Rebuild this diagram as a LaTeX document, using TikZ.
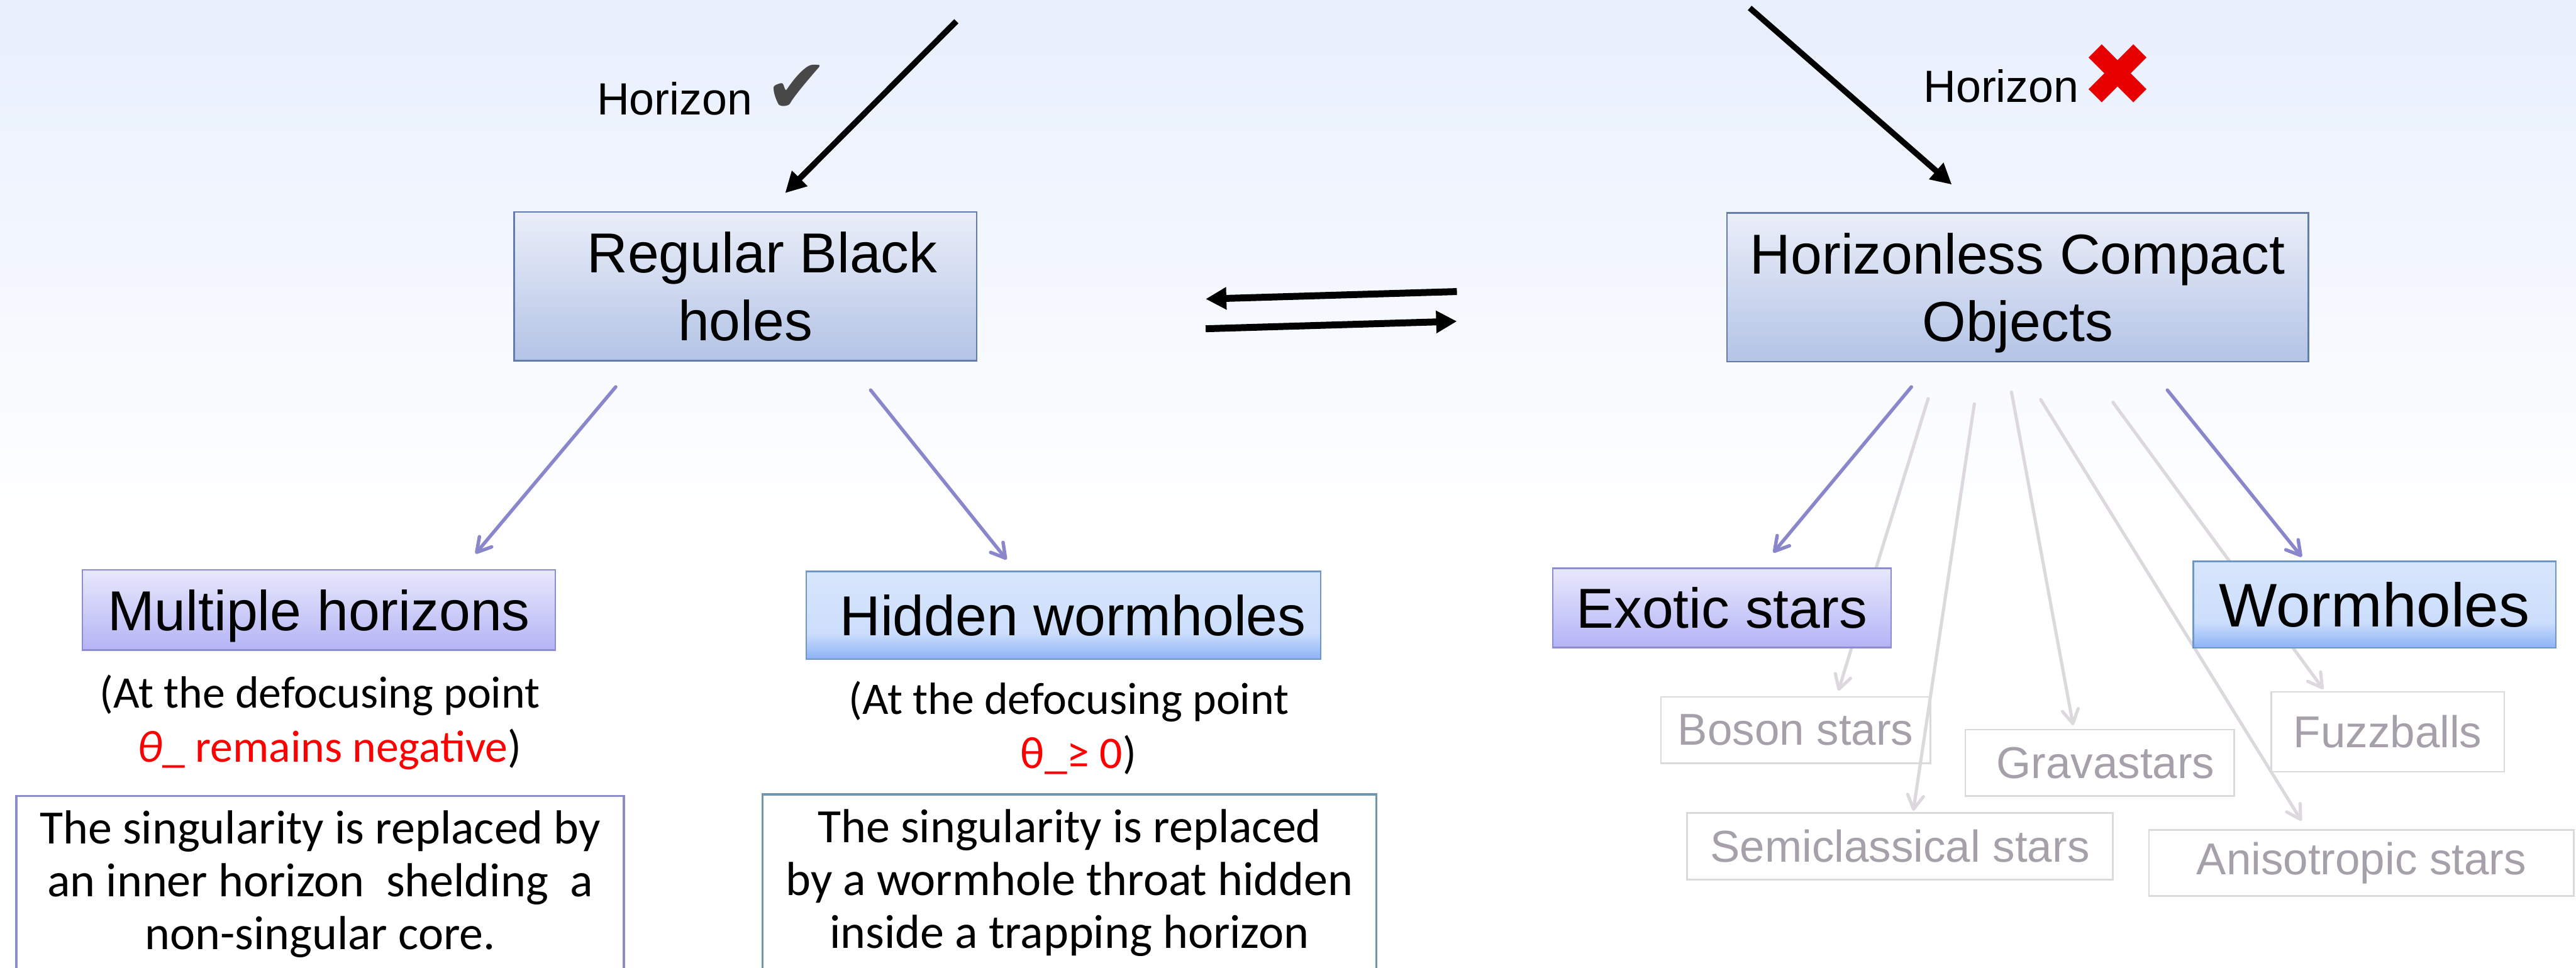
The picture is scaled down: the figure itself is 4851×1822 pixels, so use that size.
\documentclass[tikz,border=0pt]{standalone}
\usepackage{fontspec}
\setmainfont{Liberation Sans}
\newfontfamily\calibfont{Carlito}
\newfontfamily\symfont{DejaVu Sans}
\usetikzlibrary{arrows.meta,calc}

\definecolor{bgtop}{RGB}{232,239,253}
\definecolor{rbhtop}{RGB}{234,238,248}
\definecolor{rbhbot}{RGB}{180,196,230}
\definecolor{rbhline}{RGB}{100,124,172}
\definecolor{lavtop}{RGB}{232,232,252}
\definecolor{lavbot}{RGB}{180,180,246}
\definecolor{lavline}{RGB}{140,140,210}
\definecolor{blutop}{RGB}{216,230,252}
\definecolor{blumid}{RGB}{204,222,252}
\definecolor{blubot}{RGB}{140,178,246}
\definecolor{bluline}{RGB}{110,150,200}
\definecolor{linkpurple}{RGB}{138,134,204}
\definecolor{linkgray}{RGB}{220,216,222}
\definecolor{faintgray}{RGB}{166,160,170}
\definecolor{faintline}{RGB}{218,218,218}
\definecolor{checkgray}{RGB}{72,72,72}
\definecolor{crossred}{RGB}{230,0,0}
\definecolor{tbonel}{RGB}{140,140,204}
\definecolor{tbtwol}{RGB}{108,150,178}

\pgfdeclareverticalshading{pageshade}{100bp}{color(0bp)=(white); color(47.5bp)=(white); color(75bp)=(bgtop); color(100bp)=(bgtop)}
\pgfdeclareverticalshading{blueshade}{100bp}{color(0bp)=(blubot); color(25bp)=(blubot); color(40bp)=(blumid); color(75bp)=(blutop); color(100bp)=(blutop)}

\tikzset{
  bigfont/.style={font=\fontsize{10.6}{12.7}\selectfont},
  catbox/.style={draw=rbhline, line width=0.3pt, top color=rbhtop, bottom color=rbhbot,
    align=center, inner sep=0pt, text depth=0pt, bigfont},
  lavbox/.style={draw=lavline, line width=0.3pt, top color=lavtop, bottom color=lavbot,
    align=center, inner sep=0pt, text depth=0pt, bigfont},
  bluebox/.style={draw=bluline, line width=0.3pt, shading=blueshade,
    align=center, inner sep=0pt, text depth=0pt, bigfont},
  faintbox/.style={draw=faintline, line width=0.3pt, fill=white, text=faintgray,
    inner sep=0pt, font=\fontsize{8.4}{10}\selectfont},
  notebox/.style={line width=0.4pt, fill=white, align=center, inner sep=0pt, anchor=north west,
    font=\calibfont\fontsize{9}{9.95}\selectfont},
  parnote/.style={align=center, inner sep=0pt, font=\calibfont\fontsize{8.5}{10.2}\selectfont},
  horlabel/.style={anchor=base west, inner sep=0pt, font=\fontsize{8.5}{10}\selectfont},
  darrow/.style={line width=1.1pt, -{Triangle[length=3.9pt,width=3.9pt]}},
  harrow/.style={line width=1.3pt, -{Triangle[length=3.9pt,width=4pt]}},
  parrow/.style={draw=linkpurple, line width=0.65pt, line cap=round,
    -{Straight Barb[length=2.6pt,width=3pt,round]}},
  garrow/.style={draw=linkgray, line width=0.6pt, line cap=round,
    -{Straight Barb[length=2.6pt,width=3pt,round]}},
}

\begin{document}
\begin{tikzpicture}[x=0.1pt,y=-0.1pt]
\useasboundingbox (0,0) rectangle (4851,1822);
\shade[shading=pageshade] (0,0) rectangle (4851,1822);

% top-level categories
\node[catbox, minimum width=87.1pt, minimum height=28pt] (rbh) at (1403.5,539)
  {\hspace*{6.4pt}Regular Black\\holes};
\node[catbox, minimum width=109.5pt, minimum height=28pt] (hco) at (3799.5,541)
  {Horizonless Compact\\Objects};

% incoming arrows with horizon labels
\coordinate (srcA) at (1801,40);
\coordinate (srcB) at (3295,15);
\draw[darrow] (srcA) -- ($(rbh.north)+(75,-34)$);
\draw[darrow] (srcB) -- ($(hco.north)+(-124,-52)$);
\node[horlabel] (hyes) at (1122,216)
  {Horizon {\symfont\fontsize{14.3}{14}\selectfont\color{checkgray}\raisebox{0.4pt}{✔}}};
\node[horlabel] (hno) at (3620,192)
  {Horizon\hspace{-1.9pt} {\symfont\fontsize{16.4}{16}\selectfont\color{crossred}\raisebox{-0.6pt}{✖}}};

% two-way link between the categories
\draw[harrow] ($(hco.west)+(-507,8)$) -- ($(rbh.east)+(430,24)$);
\draw[harrow] ($(rbh.east)+(430,80)$) -- ($(hco.west)+(-507,64)$);

% faint sub-examples of horizonless objects
\node[faintbox, minimum width=50.7pt, minimum height=12.5pt] (boson) at (3381.5,1374.5) {Boson stars};
\node[faintbox, minimum width=50.6pt, minimum height=12.5pt] (grava) at (3954,1436.5) {\hspace*{2.2pt}Gravastars};
\node[faintbox, minimum width=43.9pt, minimum height=15pt] (fuzz) at (4496.5,1378) {Fuzzballs};
\node[faintbox, minimum width=80.2pt, minimum height=12.5pt] (semi) at (3578,1593.5) {Semiclassical stars};
\node[faintbox, minimum width=80pt, minimum height=12.4pt] (aniso) at (4447,1625) {Anisotropic stars};

\draw[garrow] ($(hco.south)+(-168.5,68)$) -- ($(boson.north)+(80.5,-10)$);
\draw[garrow] ($(hco.south)+(-81.5,78)$) -- ($(semi.north)+(25,-3)$);
\draw[garrow] ($(hco.south)+(-11.5,56)$) -- ($(grava.north)+(-50,-7)$);
\draw[garrow] ($(hco.south)+(43.5,70)$) -- ($(aniso.north)+(-113,-16)$);
\draw[garrow] ($(hco.south)+(179.5,75)$) -- ($(fuzz.north)+(-121.5,-4)$);

% second-level categories
\node[lavbox, minimum width=89.1pt, minimum height=15.1pt] (mh) at (600.5,1148.5) {Multiple horizons};
\node[bluebox, minimum width=96.9pt, minimum height=16.5pt] (hw) at (2002.5,1158.5) {\hspace*{3.6pt}Hidden wormholes};
\node[lavbox, minimum width=63.7pt, minimum height=14.9pt] (ex) at (3242.5,1144.5) {Exotic stars};
\node[bluebox, minimum width=68.3pt, minimum height=16.3pt, font=\fontsize{11.6}{13}\selectfont] (wh) at (4471.5,1138.5) {Wormholes};

\draw[parrow] ($(rbh.south)+(-244,48)$) -- ($(mh.north)+(295,-29)$);
\draw[parrow] ($(rbh.south)+(236,54)$) -- ($(hw.north)+(-107,-21)$);
\draw[parrow] ($(hco.south)+(-200,46)$) -- ($(ex.north)+(97,-28)$);
\draw[parrow] ($(hco.south)+(282,52)$) -- ($(wh.north)+(-137,-7)$);

% conditions at the defocusing point
\node[parnote] (mhcond) at (602.5,1360)
  {(At the defocusing point\\\hspace*{3.6pt}\textcolor{red}{\textit{θ}\_ remains negative})};
\node[parnote] (hwcond) at (2013,1371)
  {(At the defocusing point\\\hspace*{3.6pt}\textcolor{red}{θ\_≥ 0})};

% explanations
\node[notebox, draw=tbonel, minimum width=114.4pt, minimum height=33.1pt] (mhnote) at (29,1497)
  {The singularity is replaced by\\an inner horizon\ \ shelding\ \ a\\non-singular core.};
\node[notebox, draw=tbtwol, minimum width=115.6pt, minimum height=33.3pt] (hwnote) at (1434,1494)
  {The singularity is replaced\\by a wormhole throat hidden\\inside a trapping horizon};
\end{tikzpicture}
\end{document}
